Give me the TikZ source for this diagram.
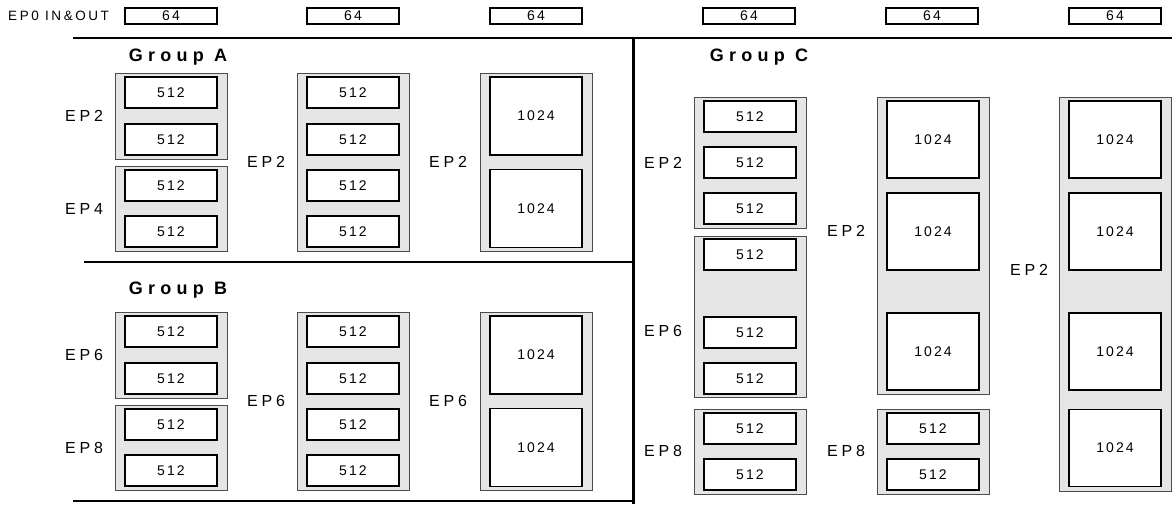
\documentclass[tikz,border=0pt]{standalone}
\usepackage{fontspec}
\setmainfont{Liberation Sans}
\newfontfamily\numfont[LetterSpace=15]{Liberation Sans}
\newfontfamily\epfont[LetterSpace=24]{Liberation Sans}
\newfontfamily\ttlfont[LetterSpace=29]{Liberation Sans}
\newfontfamily\hdfont[LetterSpace=19]{Liberation Sans}
\begin{document}
\begin{tikzpicture}[x=1pt,y=-1pt,
  outer/.style={draw=black!70, fill=black!10, line width=0.8pt, rectangle, inner sep=0pt, minimum width=112pt},
  cell/.style={draw=black, fill=white, line width=1.1pt, rectangle, inner sep=0pt, minimum width=92pt, minimum height=31pt, font=\numfont\fontsize{14}{16}\selectfont},
  big/.style={cell, minimum height=78pt},
  top/.style={cell, minimum height=16pt},
  ep/.style={font=\epfont\fontsize{16}{18}\selectfont, inner sep=0pt},
  title/.style={font=\ttlfont\bfseries\fontsize{18}{21}\selectfont, inner sep=0pt},
  rule/.style={line width=2pt},
]
\useasboundingbox (0,0) rectangle (1172,504);

% top row
\node[font=\hdfont\fontsize{13.5}{15}\selectfont, inner sep=0pt, anchor=west] (ep0) at (8,16) {EP0 IN\&OUT};
\foreach \x/\n in {171/t1,353/t2,536/t3,749/t4,932/t5,1115/t6}
  \node[top] (\n) at (\x,16) {64};

% rules
\coordinate (hl1) at (73,38);
\coordinate (hr1) at (1172,38);
\coordinate (vt) at (633,38);
\coordinate (vb) at (633,504);
\coordinate (ml) at (84,262);
\coordinate (mr) at (633,262);
\coordinate (bl) at (73,501);
\coordinate (br) at (633,501);
\draw[rule] (hl1) -- (hr1);
\draw[rule] (ml) -- (mr);
\draw[rule] (bl) -- (br);
\draw[line width=3pt] (vt) -- (vb);

% titles
\node[title] (gA) at (178,57) {Group A};
\node[title] (gB) at (178,290) {Group B};
\node[title] (gC) at (759,57) {Group C};

% ---------- Group A ----------
\node[outer, minimum height=86pt] (a1o) at (171,116) {};
\node[cell] (a11) at (171,92.5) {512};
\node[cell] (a12) at (171,139.5) {512};
\node[outer, minimum height=85pt] (a2o) at (171,208.5) {};
\node[cell] (a21) at (171,185.5) {512};
\node[cell] (a22) at (171,231.5) {512};
\node[ep] (la1) at (84,116) {EP2};
\node[ep] (la2) at (84,208.5) {EP4};

\node[outer, minimum height=178pt] (a3o) at (353,162) {};
\foreach \y [count=\i] in {92.5,139.5,185.5,231.5}
  \node[cell] (a3\i) at (353,\y) {512};
\node[ep] (la3) at (266,162) {EP2};

\node[outer, minimum height=178pt] (a4o) at (536,162) {};
\node[big] (a41) at (536,116) {1024};
\node[big] (a42) at (536,208.5) {1024};
\node[ep] (la4) at (448,162) {EP2};

% ---------- Group B ----------
\node[outer, minimum height=86pt] (b1o) at (171,355) {};
\node[cell] (b11) at (171,331.5) {512};
\node[cell] (b12) at (171,378.5) {512};
\node[outer, minimum height=85pt] (b2o) at (171,447.5) {};
\node[cell] (b21) at (171,424.5) {512};
\node[cell] (b22) at (171,470.5) {512};
\node[ep] (lb1) at (84,355) {EP6};
\node[ep] (lb2) at (84,447.5) {EP8};

\node[outer, minimum height=178pt] (b3o) at (353,401) {};
\foreach \y [count=\i] in {331.5,378.5,424.5,470.5}
  \node[cell] (b3\i) at (353,\y) {512};
\node[ep] (lb3) at (266,401) {EP6};

\node[outer, minimum height=178pt] (b4o) at (536,401) {};
\node[big] (b41) at (536,355) {1024};
\node[big] (b42) at (536,447.5) {1024};
\node[ep] (lb4) at (448,401) {EP6};

% ---------- Group C ----------
\node[outer, minimum height=131pt] (c1o) at (750,162.5) {};
\foreach \y [count=\i] in {116.5,162.5,208.5}
  \node[cell] (c1\i) at (750,\y) {512};
\node[outer, minimum height=161pt] (c2o) at (750,316.5) {};
\foreach \y [count=\i] in {254.5,332.5,378.5}
  \node[cell] (c2\i) at (750,\y) {512};
\node[outer, minimum height=85pt] (c3o) at (750,451.5) {};
\foreach \y [count=\i] in {428.5,474.5}
  \node[cell] (c3\i) at (750,\y) {512};
\node[ep] (lc1) at (663,162.5) {EP2};
\node[ep] (lc2) at (663,331) {EP6};
\node[ep] (lc3) at (663,451) {EP8};

\node[outer, minimum height=297pt] (c4o) at (933,245.5) {};
\foreach \y [count=\i] in {139.5,231.5,351.5}
  \node[big, minimum height=77pt] (c4\i) at (933,\y) {1024};
\node[outer, minimum height=85pt] (c5o) at (933,451.5) {};
\foreach \y [count=\i] in {428.5,474.5}
  \node[cell] (c5\i) at (933,\y) {512};
\node[ep] (lc4) at (846,231) {EP2};
\node[ep] (lc5) at (846,451) {EP8};

\node[outer, minimum height=394pt] (c6o) at (1115,294) {};
\foreach \y [count=\i] in {139.5,231.5,351.5,448}
  \node[big, minimum height=77pt] (c6\i) at (1115,\y) {1024};
\node[ep] (lc6) at (1029,270) {EP2};
\end{tikzpicture}
\end{document}
